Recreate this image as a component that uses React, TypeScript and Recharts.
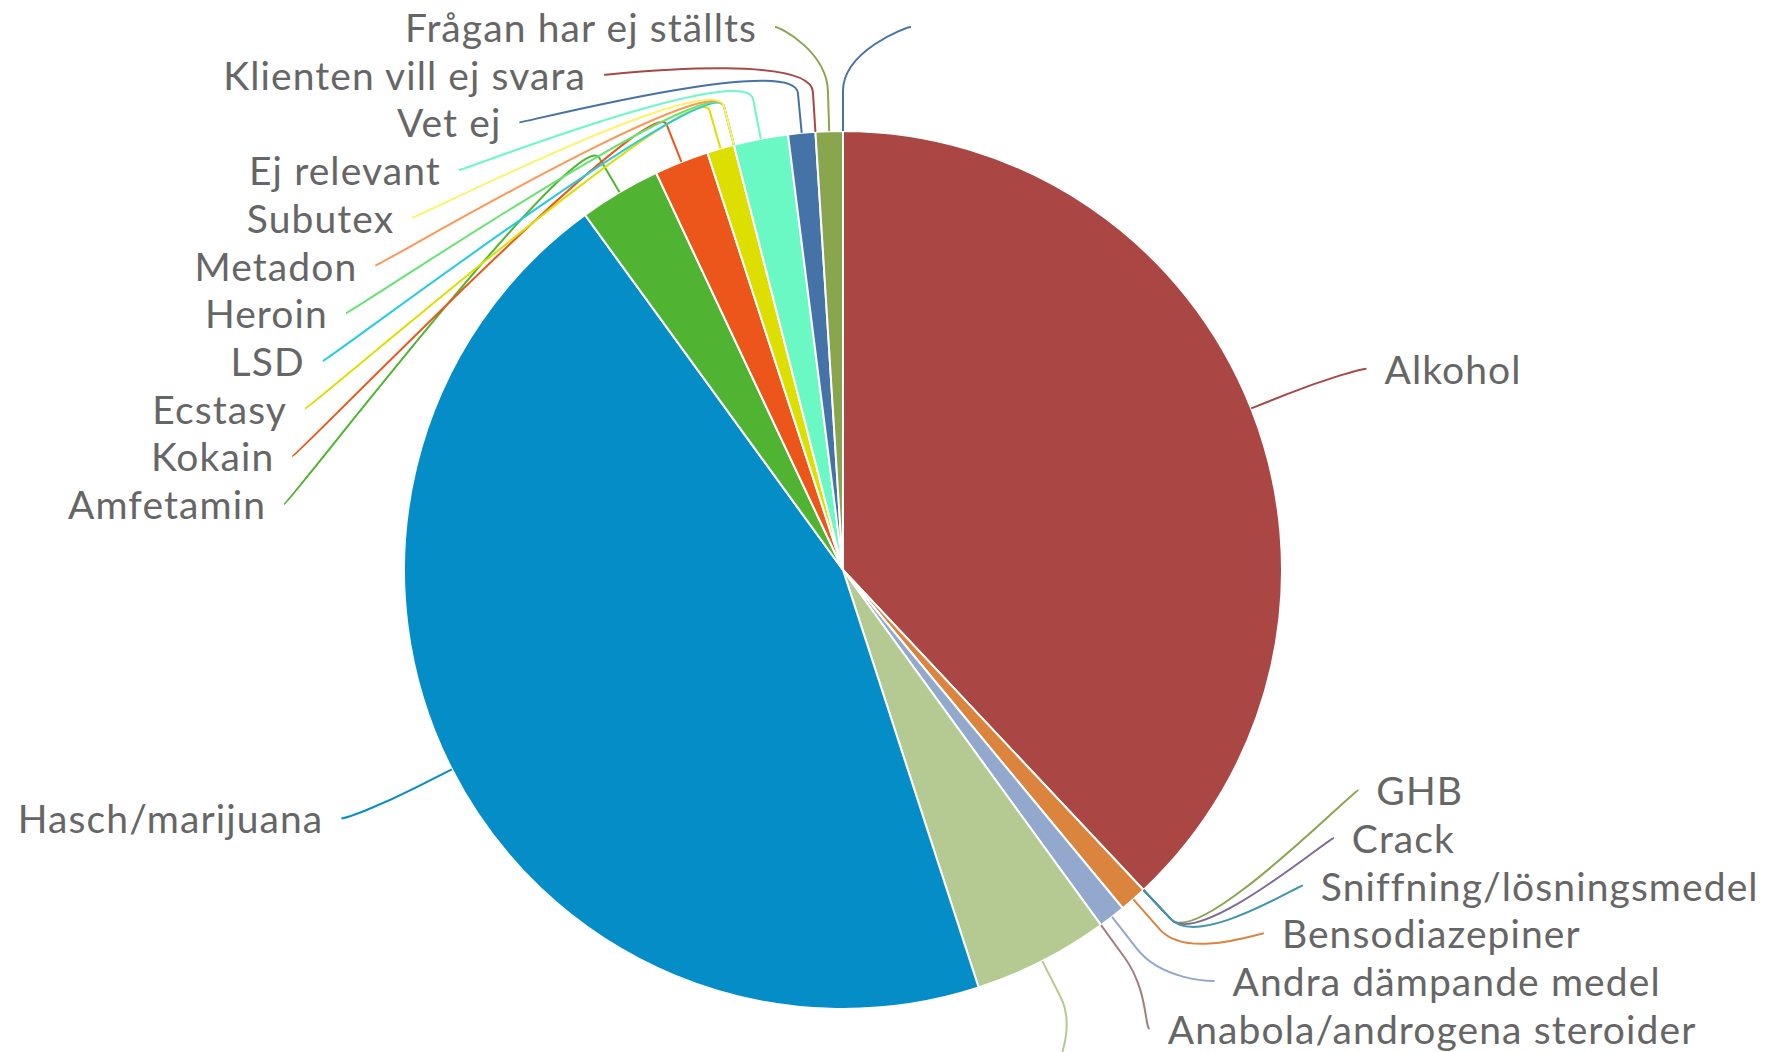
import React from 'react';
import { PieChart, Pie, Cell } from 'recharts';

// Slices in drawing order, clockwise from 12 o'clock
const categories = [
  '',
  'Alkohol',
  'GHB',
  'Crack',
  'Sniffning/lösningsmedel',
  'Bensodiazepiner',
  'Andra dämpande medel',
  'Anabola/androgena steroider',
  '',
  'Hasch/marijuana',
  'Amfetamin',
  'Kokain',
  'Ecstasy',
  'LSD',
  'Heroin',
  'Metadon',
  'Subutex',
  'Ej relevant',
  'Vet ej',
  'Klienten vill ej svara',
  'Frågan har ej ställts',
];
const counts = [0, 38, 0, 0, 0, 1, 1, 0, 5, 45, 3, 2, 1, 0, 0, 0, 0, 2, 1, 0, 1];
const palette = [
  '#4572A7', '#AA4643', '#89A54E', '#80699B', '#3D96AE', '#DB843D', '#92A8CD', '#A47D7C', '#B5CA92',
  '#058DC7', '#50B432', '#ED561B', '#DDDF00', '#24CBE5', '#64E572', '#FF9655', '#FFF263', '#6AF9C4',
];

const data = categories.map((name, i) => ({ name, value: counts[i] }));

const W = 1787;
const H = 1052;
const CX = 843;
const CY = 570;
const R = 439;
// label ring (Highcharts-like slotting)
const LABEL_RX = 563;
const LABEL_RY = 547;
const STEP = 47.7;
const TOP = CY - 543;
const BOTTOM = TOP + Math.floor((CY + LABEL_RY - TOP) / STEP) * STEP;
const CONNECTOR_OFFSET = 40;

const rad = (d: number) => (d * Math.PI) / 180;

// distribute labels vertically on each side, like the original chart
function layoutLabels() {
  const total = counts.reduce((a, b) => a + b, 0);
  let acc = 0;
  const items = counts.map((v, i) => {
    const a = ((acc + v / 2) / total) * 360;
    acc += v;
    return { i, a };
  });
  const ys: number[] = new Array(counts.length).fill(0);
  const natural = (a: number) => CY - LABEL_RY * Math.cos(rad(a));
  const right = items.filter(it => it.a < 180);
  const left = items.filter(it => it.a >= 180).reverse();
  [right, left].forEach(side => {
    let prev = -Infinity;
    side.forEach(it => {
      const y = Math.max(natural(it.a), prev + STEP, TOP);
      ys[it.i] = y;
      prev = y;
    });
    let next = Infinity;
    for (let k = side.length - 1; k >= 0; k--) {
      const it = side[k];
      const y = Math.min(ys[it.i], next - STEP, BOTTOM);
      ys[it.i] = y;
      next = y;
    }
  });
  return ys;
}

const labelY = layoutLabels();

const renderLabel = (props: any) => {
  const { cx, cy, midAngle, outerRadius, index } = props;
  const a = 90 - midAngle; // clockwise from top
  const sx = Math.sin(rad(a));
  const sy = -Math.cos(rad(a));
  const ex = cx + outerRadius * sx;
  const ey = cy + outerRadius * sy;
  const bx = cx + (outerRadius + CONNECTOR_OFFSET) * sx;
  const by = cy + (outerRadius + CONNECTOR_OFFSET) * sy;
  const isRight = a < 180;
  const y = labelY[index];
  const t = Math.max(-1, Math.min(1, (y - cy) / LABEL_RY));
  const x = cx + (isRight ? 1 : -1) * LABEL_RX * Math.sqrt(1 - t * t);
  const color = palette[index % palette.length];
  const d = `M ${x} ${y} C ${x + (isRight ? -5 : 5)} ${y} ${2 * bx - ex} ${2 * by - ey} ${bx} ${by} L ${ex} ${ey}`;
  const name = categories[index];
  return (
    <g key={`lbl-${index}`}>
      <path d={d} fill="none" stroke={color} strokeWidth={2} />
      {name && (
        <text
          x={isRight ? x + 18 : x - 18}
          y={y + 15}
          textAnchor={isRight ? 'start' : 'end'}
          fill="#666666"
          fontSize={39}
          letterSpacing={1.1}
          fontFamily="Lato, sans-serif"
        >
          {name}
        </text>
      )}
    </g>
  );
};

const App: React.FC = () => {
  return (
    <div style={{ width: W, height: H, background: '#fff' }}>
      <style>{`body { margin: 0; }`}</style>
      <PieChart width={W} height={H} margin={{ top: 0, right: 0, bottom: 0, left: 0 }}>
        <Pie
          data={data}
          dataKey="value"
          nameKey="name"
          cx={CX}
          cy={CY}
          outerRadius={R}
          startAngle={90}
          endAngle={-270}
          stroke="#ffffff"
          strokeWidth={2}
          labelLine={false}
          label={renderLabel}
          isAnimationActive={false}
        >
          {data.map((_, i) => (
            <Cell key={i} fill={palette[i % palette.length]} />
          ))}
        </Pie>
      </PieChart>
    </div>
  );
};

export default App;
